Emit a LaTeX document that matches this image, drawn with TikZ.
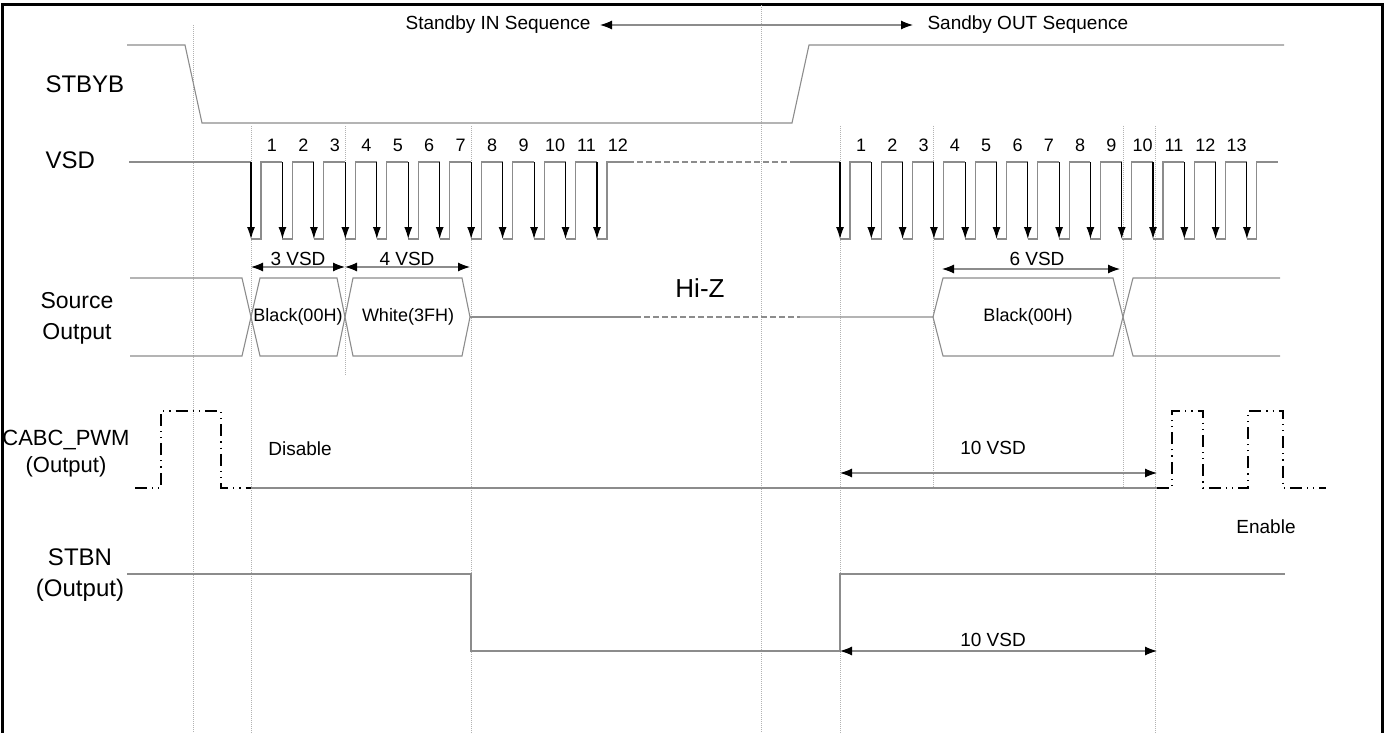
\documentclass[tikz,border=0pt]{standalone}
\usepackage{fontspec}
\setmainfont{Liberation Sans}
\usetikzlibrary{arrows.meta}

\begin{document}
\begin{tikzpicture}[x=1pt,y=1pt]
		\tikzset{sig/.style={draw=black!45, line width=1.1pt}}
		\tikzset{guide/.style={draw=black!30, line width=0.8pt, dash pattern=on 1pt off 1pt}}
		\tikzset{dim/.style={{Latex[length=12pt, width=9pt, color=black]}-{Latex[length=12pt, width=9pt, color=black]}, draw=black!45, line width=1.1pt}}
		\tikzset{clk/.style={-{Latex[length=12pt, width=8pt]}, line width=1.1pt}}
		\tikzset{pwm/.style={line width=1.6pt, dash pattern=on 12pt off 5pt on 1.2pt off 5pt on 1.2pt off 5pt}}
		\tikzset{lbl/.style={font=\fontsize{24}{31}\selectfont, align=center}}
		\tikzset{txt/.style={font=\fontsize{19}{22}\selectfont}}
		\tikzset{num/.style={font=\fontsize{18}{20}\selectfont}}
		\useasboundingbox (0,0) rectangle (1384,-733);
		%frame
		\draw[line width=3pt] (2,-745) -- (2,-5) -- (1382,-5) -- (1382,-745);
		%guides
		\foreach \x/\a/\b in {193/25/733, 251/126/733, 345/126/375, 471/126/733, 761/5/733,
				840/126/733, 933/126/488, 1123/126/488, 1155/126/733}
			\draw[guide] (\x,-\a) -- (\x,-\b);
		%signal names
		\node[lbl, anchor=west] (stbyb) at (42,-84) {STBYB};
		\node[lbl, anchor=west] (vsd) at (42,-160) {VSD};
		\node[lbl, font=\fontsize{23}{31}\selectfont] (src) at (77,-318) {Source\\Output};
		\node[lbl, font=\fontsize{22}{27}\selectfont] (cabc) at (66,-454) {CABC\_PWM\\(Output)};
		\node[lbl] (stbn) at (80,-575) {STBN\\(Output)};
		%sequence
		\node[txt, anchor=east] (seqin) at (594,-25) {Standby IN Sequence};
		\node[txt, anchor=west] (seqout) at (924,-25) {Sandby OUT Sequence};
		\coordinate (s1) at (600,-25);
		\coordinate (s2) at (913,-25);
		\draw[dim] (s1) -- (s2);
		%STBYB
		\draw[sig] (127,-45) -- (185,-45) -- (202,-123) -- (792,-123) -- (809,-45) -- (1284,-45);
		%VSD
		\draw[sig] (129,-162) -- (251,-162);
		\foreach \k in {0,...,11} {
			\pgfmathsetmacro\f{251+31.45*\k}
			\pgfmathtruncatemacro\n{\k+1}
			\draw[sig] (\f,-239) -- (\f+10,-239) -- (\f+10,-162) -- (\f+31.45,-162);
			\draw[clk] (\f,-162) -- (\f,-239);
			\node[num] (in\n) at (\f+21,-145) {\n};
		}
		\draw[sig, dash pattern=on 6pt off 3pt] (628,-162) -- (793,-162);
		\draw[sig] (793,-162) -- (840,-162);
		\foreach \k in {0,...,13} {
			\pgfmathsetmacro\f{840+31.3*\k}
			\draw[sig] (\f,-239) -- (\f+10,-239) -- (\f+10,-162) -- (\f+31.3,-162);
			\draw[clk] (\f,-162) -- (\f,-239);
		}
		\foreach \k in {0,...,12} {
			\pgfmathsetmacro\f{840+31.3*\k}
			\pgfmathtruncatemacro\n{\k+1}
			\node[num] (out\n) at (\f+21,-145) {\n};
		}
		%source output
		\draw[sig] (130,-278) -- (242,-278) -- (260,-356) -- (337,-356) -- (353,-278) -- (462,-278) -- (470,-317);
		\draw[sig] (130,-356) -- (242,-356) -- (260,-278) -- (337,-278) -- (353,-356) -- (462,-356) -- (470,-317);
		\draw[sig] (470,-317) -- (635,-317);
		\draw[sig, dash pattern=on 6pt off 3pt] (635,-317) -- (800,-317);
		\draw[sig] (800,-317) -- (933,-317) -- (943,-278) -- (1113,-278) -- (1133,-356) -- (1280,-356);
		\draw[sig] (933,-317) -- (943,-356) -- (1113,-356) -- (1133,-278) -- (1280,-278);
		\node[num] (blk1) at (298,-317) {Black(00H)};
		\node[num] (wht) at (408,-317) {White(3FH)};
		\node[num] (blk2) at (1028,-317) {Black(00H)};
		\node[font=\fontsize{26}{28}\selectfont] (hiz) at (700,-288) {Hi-Z};
		%widths
		\coordinate (a3) at (251,-267);
		\coordinate (b3) at (345,-267);
		\coordinate (b4) at (470,-267);
		\coordinate (a6) at (942,-269);
		\coordinate (b6) at (1120,-269);
		\draw[dim] (a3) -- (b3);
		\draw[dim] (b3) -- (b4);
		\draw[dim] (a6) -- (b6);
		\node[txt] (w3) at (298,-259) {3 VSD};
		\node[txt] (w4) at (407,-259) {4 VSD};
		\node[txt] (w6) at (1037,-259) {6 VSD};
		%CABC_PWM
		\draw[pwm] (135,-488) -- (161,-488) -- (161,-411) -- (221,-411) -- (221,-488) -- (297,-488);
		\draw[sig] (251,-488) -- (1157,-488);
		\draw[pwm] (1157,-488) -- (1172,-488) -- (1172,-411) -- (1203,-411) -- (1203,-488) -- (1248,-488)
			-- (1248,-411) -- (1283,-411) -- (1283,-488) -- (1326,-488);
		\coordinate (p1) at (840,-473);
		\coordinate (p2) at (1157,-473);
		\draw[dim] (p1) -- (p2);
		\node[txt] (t1) at (993,-448) {10 VSD};
		\node[txt] (dis) at (300,-449) {Disable};
		\node[txt] (ena) at (1266,-527) {Enable};
		%STBN
		\draw[sig] (127,-574) -- (471,-574) -- (471,-651) -- (840,-651) -- (840,-574) -- (1285,-574);
		\coordinate (q1) at (840,-651);
		\coordinate (q2) at (1157,-651);
		\draw[dim] (q1) -- (q2);
		\node[txt] (t2) at (993,-640) {10 VSD};
\end{tikzpicture}
\end{document}
